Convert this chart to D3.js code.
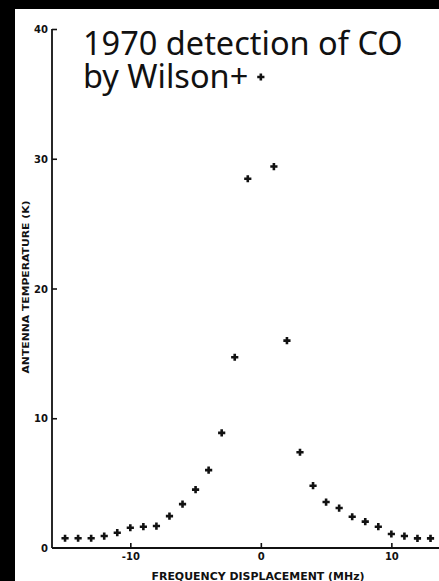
<!DOCTYPE html>
<html>
<head>
<meta charset="utf-8">
<script src="https://cdn.jsdelivr.net/npm/d3@7"></script>
<style>
html, body { margin: 0; padding: 0; background: #000; }
svg { display: block; }
</style>
</head>
<body>
<div id="chart"></div>
<script>
var width = 439;
var height = 581;

// frequency displacement (MHz) and antenna temperature (K)
var freqs = [-15, -14, -13, -12, -11, -10, -9, -8, -7, -6, -5, -4, -3, -2, -1, 0, 1, 2, 3, 4, 5, 6, 7, 8, 9, 10, 11, 12, 13];
var temps = [0.75, 0.75, 0.75, 0.92, 1.18, 1.56, 1.64, 1.69, 2.46, 3.38, 4.5, 6.0, 8.87, 14.7, 28.46, 36.3, 29.4, 15.98, 7.38, 4.8, 3.54, 3.08, 2.41, 2.03, 1.64, 1.08, 0.92, 0.74, 0.74];
var xTicks = [-10, 0, 10];
var yTicks = [0, 10, 20, 30, 40];
var titleLines = ["1970 detection of CO", "by Wilson+"];

var svg = d3.select("#chart").append("svg")
    .attr("width", width)
    .attr("height", height);

// white paper panel
svg.append("rect")
    .attr("x", 15)
    .attr("y", 9)
    .attr("width", width - 15)
    .attr("height", height - 9)
    .attr("fill", "#fff");

var x = d3.scaleLinear()
    .domain([-16, 13.65])
    .range([52, 439]);
var y = d3.scaleLinear()
    .domain([0, 40])
    .range([548, 29]);

var axisFont = "'DejaVu Sans', sans-serif";

// y axis
var yAxis = svg.append("g")
    .attr("transform", "translate(" + x(-16) + ",0)")
    .call(d3.axisRight(y).tickValues(yTicks).tickSize(5).tickFormat(""));
yAxis.select(".domain")
    .attr("d", "M0," + y(40) + "V" + y(0))
    .attr("stroke", "#111")
    .attr("stroke-width", 1.8);
yAxis.selectAll(".tick line")
    .attr("stroke", "#111")
    .attr("stroke-width", 1.6)
    .filter(function (d) { return d == 0; }).remove();
yAxis.selectAll(".tick").append("text")
    .attr("x", -4)
    .attr("dy", "0.35em")
    .attr("text-anchor", "end")
    .attr("fill", "#111")
    .style("font-family", axisFont)
    .style("font-weight", "bold")
    .style("font-size", "10px")
    .text(function (d) { return d; });

// x axis
var xAxis = svg.append("g")
    .attr("transform", "translate(0," + y(0) + ")")
    .call(d3.axisTop(x).tickValues(xTicks).tickSize(5).tickFormat(""));
xAxis.select(".domain")
    .attr("d", "M" + x(-16) + ",0H" + width)
    .attr("stroke", "#111")
    .attr("stroke-width", 1.8);
xAxis.selectAll(".tick line")
    .attr("stroke", "#111")
    .attr("stroke-width", 1.6);
xAxis.selectAll(".tick").append("text")
    .attr("y", 12)
    .attr("text-anchor", "middle")
    .attr("fill", "#111")
    .style("font-family", axisFont)
    .style("font-weight", "bold")
    .style("font-size", "10px")
    .text(function (d) { return d; });

// axis titles
svg.append("text")
    .attr("transform", "translate(29,287) rotate(-90)")
    .attr("text-anchor", "middle")
    .attr("textLength", 173)
    .attr("lengthAdjust", "spacingAndGlyphs")
    .attr("fill", "#111")
    .style("font-family", axisFont)
    .style("font-weight", "bold")
    .style("font-size", "9.5px")
    .text("ANTENNA TEMPERATURE (K)");

svg.append("text")
    .attr("x", 258)
    .attr("y", 580)
    .attr("text-anchor", "middle")
    .attr("textLength", 213)
    .attr("lengthAdjust", "spacingAndGlyphs")
    .attr("fill", "#111")
    .style("font-family", axisFont)
    .style("font-weight", "bold")
    .style("font-size", "10px")
    .text("FREQUENCY DISPLACEMENT (MHz)");

// data markers
var points = freqs.map(function (f, i) { return { f: f, t: temps[i] }; });
var s = 3.6;
svg.append("g").selectAll("path")
    .data(points)
    .enter().append("path")
    .attr("d", function (d) {
        var cx = x(d.f), cy = y(d.t);
        return "M" + (cx - s) + "," + cy + "H" + (cx + s) + "M" + cx + "," + (cy - s) + "V" + (cy + s);
    })
    .attr("stroke", "#111")
    .attr("stroke-width", 2.6)
    .attr("fill", "none");

// title
var title = svg.append("text")
    .attr("x", 83)
    .attr("y", 55)
    .attr("fill", "#111")
    .style("font-family", "'Noto Sans', sans-serif")
    .style("font-size", "32.5px");
title.selectAll("tspan")
    .data(titleLines)
    .enter().append("tspan")
    .attr("x", 83)
    .attr("dy", function (d, i) { return i == 0 ? 0 : 33; })
    .text(function (d) { return d; });
</script>
</body>
</html>
